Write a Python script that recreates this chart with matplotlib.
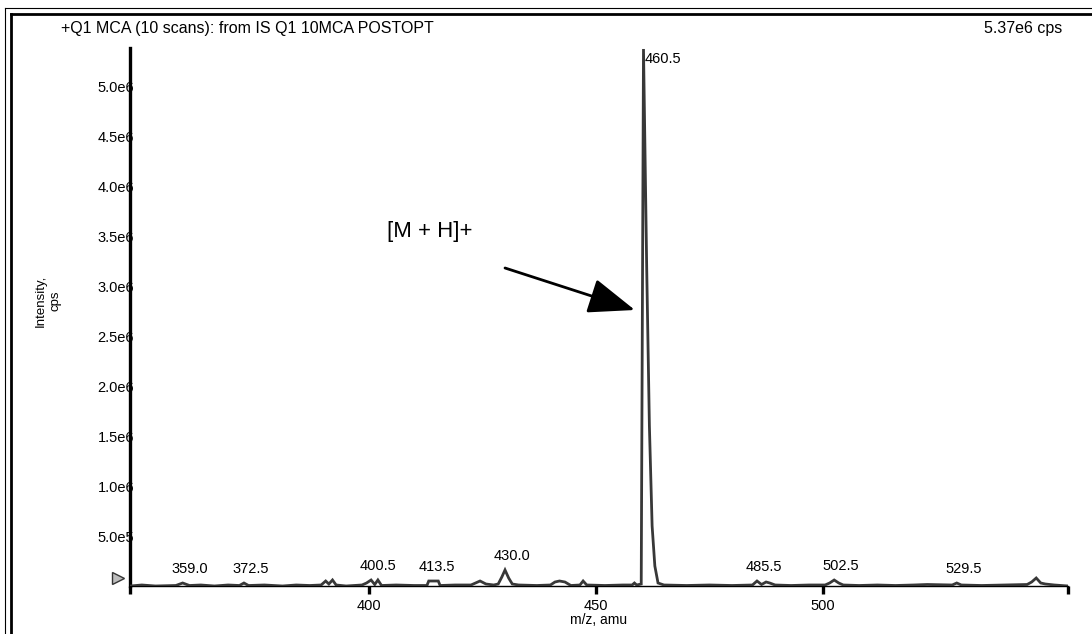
import matplotlib
matplotlib.use("Agg")
import matplotlib.pyplot as plt
from matplotlib.lines import Line2D
from matplotlib import transforms

plt.rcParams['font.family'] = ['Liberation Sans', 'DejaVu Sans']

# ---------------- data ----------------
mz = [347.5, 350.0, 353.0, 357.5, 359.0, 360.5, 363.0, 366.0, 369.0, 371.5,
      372.5, 373.5, 377.0, 381.0, 384.0, 387.0, 389.5, 390.5, 391.2, 392.0,
      392.8, 395.0, 398.5, 399.5, 400.5, 401.3, 402.0, 402.8, 406.0, 410.0,
      412.8, 413.2, 415.3, 415.7, 419.0, 422.5, 423.5, 424.5, 425.8, 427.5,
      428.5, 429.3, 430.0, 430.8, 431.6, 433.0, 437.0, 440.0, 441.0, 442.0,
      443.2, 444.5, 446.5, 447.2, 448.0, 452.0, 456.0, 458.0, 458.5, 459.0,
      460.0, 460.5, 461.2, 461.8, 462.4, 463.0, 463.7, 465.0, 470.0, 475.0,
      480.0, 484.5, 485.5, 486.5, 487.5, 488.3, 489.5, 493.0, 497.0, 500.5,
      501.5, 502.5, 503.5, 504.5, 508.0, 512.0, 516.0, 520.0, 523.0, 528.5,
      529.5, 530.5, 535.0, 540.0, 545.0, 546.0, 547.0, 548.0, 549.0, 551.0,
      554.0]
intensity = [0, 1e4, 0, 5e3, 3e4, 5e3, 1e4, 0, 1e4, 5e3,
             3e4, 5e3, 1e4, 0, 1e4, 5e3, 1e4, 5e4, 2e4, 6e4,
             1e4, 0, 1e4, 3e4, 6e4, 1.5e4, 6e4, 5e3, 1e4, 5e3,
             5e3, 5e4, 5e4, 5e3, 1e4, 1e4, 3e4, 5e4, 2e4, 1e4,
             2e4, 9e4, 1.6e5, 8e4, 2e4, 1e4, 5e3, 1e4, 4e4, 5e4,
             4e4, 5e3, 1e4, 5e4, 1e4, 5e3, 1e4, 1e4, 3e4, 1e4,
             2e4, 5.37e6, 3.2e6, 1.6e6, 6e5, 2e5, 3e4, 1e4, 5e3, 1e4,
             5e3, 1e4, 5e4, 1.5e4, 4e4, 3e4, 1e4, 5e3, 1e4, 1e4,
             3e4, 6e4, 3e4, 1e4, 5e3, 1e4, 5e3, 1e4, 1.5e4, 1e4,
             3e4, 1e4, 5e3, 1e4, 1.5e4, 4e4, 8e4, 3e4, 2e4, 1e4,
             0]

peak_labels_mz = [359.0, 372.5, 400.5, 413.5, 430.0, 460.5, 485.5, 502.5, 529.5]
x_ticks = [400, 450, 500]
x_tick_labels = ['400', '450', '500']
y_ticks = [0.5e6, 1.0e6, 1.5e6, 2.0e6, 2.5e6, 3.0e6, 3.5e6, 4.0e6, 4.5e6, 5.0e6]
y_tick_labels = ['5.0e5', '1.0e6', '1.5e6', '2.0e6', '2.5e6',
                 '3.0e6', '3.5e6', '4.0e6', '4.5e6', '5.0e6']
x_range = (347.4, 554.0)
y_range = (0, 5.38e6)
header_text = '+Q1 MCA (10 scans): from IS Q1 10MCA POSTOPT'
max_text = '5.37e6 cps'
annot_text = '[M + H]+'
annot_text_pos = (413.5, 3.55e6)
arrow_tail = (430.0, 3.18e6)
arrow_tip = (458.6, 2.76e6)

# ---------------- figure ----------------
W, H = 1092, 634
fig = plt.figure(figsize=(W / 100, H / 100), dpi=100)
ax = fig.add_axes([130 / W, (H - 586) / H, (1068 - 130) / W, (586 - 48) / H])

ax.plot(mz, intensity, color='#383838', lw=2.0, solid_joinstyle='miter', zorder=3)

ax.set_xlim(*x_range)
ax.set_ylim(*y_range)

for s in ['top', 'right']:
    ax.spines[s].set_visible(False)
ax.spines['left'].set_linewidth(2.4)
ax.spines['bottom'].set_linewidth(1.0)

ax.set_xticks(x_ticks)
ax.set_xticklabels(x_tick_labels, fontsize=10.5)
ax.set_xticks([x_range[0], x_range[1]], minor=True)
ax.tick_params(axis='x', which='both', direction='out', length=6, width=2.4, pad=3)

ax.set_yticks(y_ticks)
ax.set_yticklabels(y_tick_labels, fontsize=10.5)
ax.tick_params(axis='y', length=0, pad=-3)

ax.set_xlabel('m/z, amu', fontsize=10, labelpad=0)
ax.set_ylabel('Intensity,\ncps', fontsize=9.5, linespacing=1.3)
ax.yaxis.set_label_coords(-0.073, 0.53)

# peak labels
for lm in peak_labels_mz:
    idx = min(range(len(mz)), key=lambda i: abs(mz[i] - lm))
    h = intensity[idx]
    if h > 1e6:
        ax.annotate(f'{lm:.1f}', xy=(lm, h), xytext=(1, -2), textcoords='offset points',
                    ha='left', va='top', fontsize=10.5)
    else:
        ax.annotate(f'{lm:.1f}', xy=(lm, h), xytext=(5, 5), textcoords='offset points',
                    ha='center', va='bottom', fontsize=10.5)

# zero marker
tr = transforms.offset_copy(ax.transData, fig=fig, x=-12, y=8, units='dots')
ax.plot([x_range[0]], [0], marker='>', markersize=9, mfc='#bdbdbd', mec='#333333',
        mew=1, transform=tr, clip_on=False, zorder=4)

# annotation
ax.text(annot_text_pos[0], annot_text_pos[1], annot_text, fontsize=16,
        ha='center', va='center')
ax.annotate('', xy=arrow_tip, xytext=arrow_tail,
            arrowprops=dict(arrowstyle='-|>,head_length=2.9,head_width=1.1',
                            lw=2, color='black', shrinkA=0, shrinkB=0,
                            mutation_scale=10))

# header texts
fig.text(61 / W, 1 - 28 / H, header_text, fontsize=11.5, ha='left', va='center')
fig.text(1062 / W, 1 - 28 / H, max_text, fontsize=11.5, ha='right', va='center')

# double frame
fig.add_artist(Line2D([5 / W, 5 / W], [0, 1 - 8 / H], color='black', lw=0.8))
fig.add_artist(Line2D([5 / W, 1], [1 - 8 / H, 1 - 8 / H], color='black', lw=0.8))
fig.add_artist(Line2D([11 / W, 11 / W], [0, 1 - 14 / H], color='black', lw=2))
fig.add_artist(Line2D([11 / W, 1], [1 - 14 / H, 1 - 14 / H], color='black', lw=2))

fig.savefig('out.png', dpi=100)
